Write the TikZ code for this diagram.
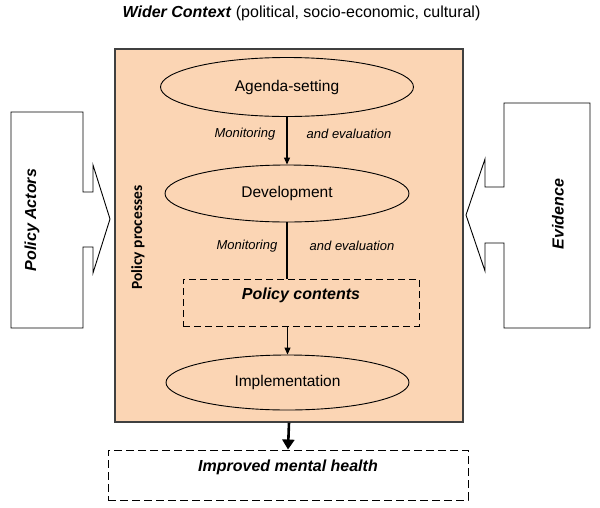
\documentclass[tikz,border=0pt]{standalone}
\usepackage{fontspec}
\setmainfont{Liberation Sans}
\newfontfamily\calfont{Carlito}
\usetikzlibrary{shapes.geometric,arrows.meta}
\definecolor{peach}{RGB}{251,213,180}
\definecolor{edgegray}{RGB}{64,64,64}

\begin{document}
\begin{tikzpicture}[x=1pt,y=-1pt,
	stage/.style={ellipse,draw,line width=0.9pt,inner sep=0pt,font=\fontsize{15.5}{18}\selectfont},
	note/.style={font=\itshape\fontsize{13}{15}\selectfont},
	dashbox/.style={draw,line width=0.9pt,dash pattern=on 7pt off 4pt,inner sep=0pt},
	bigtext/.style={font=\bfseries\itshape\fontsize{16}{19}\selectfont},
	flow/.style={line width=1.1pt,-{Triangle[length=7pt,width=6pt]}},
	bigflow/.style={line width=2.6pt,-{Triangle[length=10pt,width=12pt]}},
	callout/.style={draw,line width=0.9pt,fill=white}]
	\useasboundingbox (0,0) rectangle (600,507);
	
	% title
	\node (title) at (301.5,13) {\fontsize{16}{19}\selectfont\textbf{\textit{Wider Context}} (political, socio-economic, cultural)};
	
	% policy processes box
	\node[fill=peach,draw=edgegray,line width=1.2pt,minimum width=348pt,minimum height=373pt] (proc) at (289,235.5) {};
	\node[rotate=90,font=\calfont\bfseries\fontsize{15.5}{18}\selectfont] (proclabel) at (138,237.5) {Policy processes};
	
	\node[stage,minimum width=253pt,minimum height=59pt] (agenda) at (287,87) {Agenda-setting};
	\node[stage,minimum width=244pt,minimum height=57pt] (devel) at (287,193.5) {Development};
	\node[dashbox,minimum width=236pt,minimum height=47pt] (contents) at (301,302.5) {};
	\node[bigtext] (contentslabel) at (301,295) {Policy contents};
	\node[stage,minimum width=243pt,minimum height=55pt] (impl) at (287.5,382.5) {Implementation};
	
	\node[note] (mon1) at (245,134) {Monitoring};
	\node[note] (eval1) at (349,134) {and evaluation};
	\node[note] (mon2) at (247,246) {Monitoring};
	\node[note] (eval2) at (352,246) {and evaluation};
	
	\draw[flow] (agenda) -- (devel);
	\draw[line width=1.1pt] (devel.south) -- (devel.south |- contents.north);
	\draw[flow] (contents.south -| impl.north) -- (impl.north);
	
	% outcome
	\node[dashbox,dash pattern=on 8pt off 4pt,minimum width=360pt,minimum height=50pt] (health) at (288,475) {};
	\node[bigtext] (healthlabel) at (288,467) {Improved mental health};
	\draw[bigflow] (proc.south) -- (health.north);
	
	% actors and evidence
	\draw[callout] (11,112) -- (83,112) -- (83,192) -- (93,192) -- (93,165) -- (110,219) -- (93,273) -- (93,247) -- (83,247) -- (83,328) -- (11,328) -- cycle;
	\node[bigtext,rotate=90] (actors) at (32,220) {Policy Actors};
	
	\draw[callout] (590,103) -- (504,103) -- (504,187) -- (485,187) -- (485,159) -- (466,215) -- (485,271) -- (485,243) -- (504,243) -- (504,328) -- (590,328) -- cycle;
	\node[bigtext,rotate=90] (evidence) at (558,214) {Evidence};
	
\end{tikzpicture}
\end{document}
